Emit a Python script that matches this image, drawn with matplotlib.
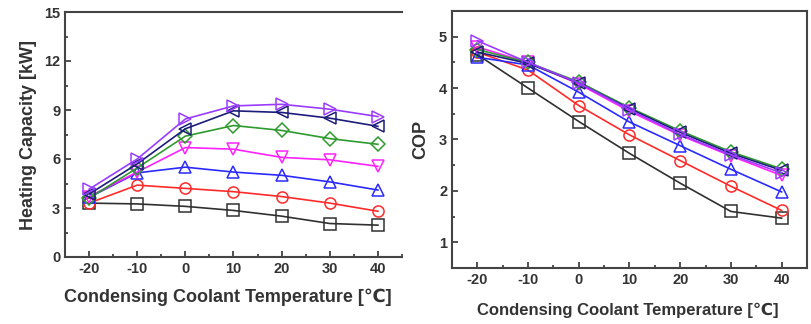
import matplotlib as mpl
import matplotlib.pyplot as plt
from matplotlib.ticker import MultipleLocator
from matplotlib.transforms import Bbox, TransformedBbox

mpl.rcParams.update({
    "font.family": ["Liberation Sans", "DejaVu Sans"],
    "font.weight": "bold",
    "axes.labelweight": "bold",
    "axes.unicode_minus": False,
    "xtick.direction": "in",
    "ytick.direction": "in",
})

temps = [-20, -10, 0, 10, 20, 30, 40]

# heating capacity [kW], one list per series
hc_black = [3.3, 3.25, 3.1, 2.85, 2.5, 2.05, 1.95]
hc_red = [3.3, 4.4, 4.2, 4.0, 3.7, 3.3, 2.8]
hc_blue = [3.65, 5.15, 5.5, 5.2, 5.0, 4.6, 4.1]
hc_magenta = [3.7, 5.2, 6.7, 6.6, 6.1, 5.95, 5.55]
hc_green = [3.6, 5.45, 7.4, 8.05, 7.75, 7.25, 6.9]
hc_navy = [3.85, 5.7, 7.85, 8.95, 8.85, 8.5, 8.0]
hc_purple = [4.15, 6.0, 8.45, 9.25, 9.35, 9.05, 8.6]

# COP
cop_black = [4.65, 4.0, 3.35, 2.73, 2.15, 1.6, 1.47]
cop_red = [4.7, 4.35, 3.66, 3.09, 2.59, 2.09, 1.62]
cop_blue = [4.6, 4.45, 3.92, 3.34, 2.88, 2.42, 1.98]
cop_magenta = [4.8, 4.5, 4.08, 3.55, 3.08, 2.68, 2.3]
cop_green = [4.75, 4.5, 4.12, 3.62, 3.17, 2.76, 2.43]
cop_navy = [4.7, 4.48, 4.1, 3.6, 3.14, 2.73, 2.4]
cop_purple = [4.92, 4.5, 4.1, 3.58, 3.1, 2.7, 2.35]

styles = [
    ("#303030", "s"),
    ("#ff2a2a", "o"),
    ("#2a2aff", "^"),
    ("#ff22ff", "v"),
    ("#2f9a2f", "D"),
    ("#1c1c7a", "<"),
    ("#9a3cff", ">"),
]
hc_series = [hc_black, hc_red, hc_blue, hc_magenta, hc_green, hc_navy, hc_purple]
cop_series = [cop_black, cop_red, cop_blue, cop_magenta, cop_green, cop_navy, cop_purple]

fig = plt.figure(figsize=(8.12, 3.24), dpi=100)
ax1 = fig.add_axes([65 / 812, 1 - 257 / 324, 337 / 812, 245 / 324])
ax2 = fig.add_axes([452 / 812, 1 - 268 / 324, 355 / 812, 257 / 324])

for ax, series in ((ax1, hc_series), (ax2, cop_series)):
    for vals, (col, mk) in zip(series, styles):
        ms = 7 if mk == "D" else 8
        ax.plot(temps, vals, color=col, marker=mk, ms=ms, mfc="none",
                mec=col, mew=1.1, lw=1.2)
    ax.set_xlim(-25, 45)
    ax.xaxis.set_major_locator(MultipleLocator(10))
    ax.xaxis.set_minor_locator(MultipleLocator(5))
    ax.tick_params(which="both", colors="#333333", labelsize=10.5, width=1.2,
                   top=False, right=False)
    ax.tick_params(which="major", length=4)
    ax.tick_params(which="minor", length=2.5)
    for s in ax.spines.values():
        s.set_color("#444444")
        s.set_linewidth(1.5)

ax1.set_ylim(0, 15)
ax1.yaxis.set_major_locator(MultipleLocator(3))
ax1.yaxis.set_minor_locator(MultipleLocator(1.5))
ax1.spines["right"].set_visible(False)
ax1.set_ylabel("Heating Capacity [kW]", fontsize=13, color="#333333", labelpad=5)

ax2.set_ylim(0.5, 5.5)
ax2.yaxis.set_major_locator(MultipleLocator(1))
ax2.yaxis.set_minor_locator(MultipleLocator(0.5))
ax2.set_ylabel("COP", fontsize=13, color="#333333", labelpad=7)

lab = "Condensing Coolant Temperature [\u2103]"
t1 = fig.text(64 / 812, 1 - 297 / 324, lab, fontsize=13, color="#333333",
              ha="left", va="center")
t1.set_clip_box(TransformedBbox(Bbox([[0, 0], [399 / 812, 1]]), fig.transFigure))
t1.set_clip_on(True)
fig.text(628 / 812, 1 - 310 / 324, lab, fontsize=12, color="#333333",
         ha="center", va="center")

fig.savefig("out.png", dpi=100)
